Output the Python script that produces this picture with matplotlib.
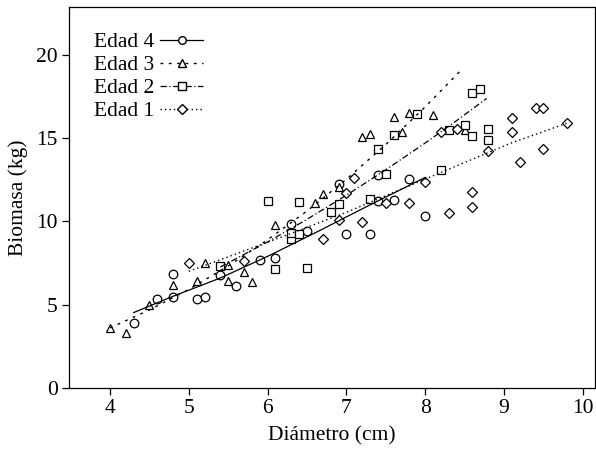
import matplotlib
matplotlib.use("Agg")
import matplotlib.pyplot as plt
from matplotlib.lines import Line2D

plt.rcParams['font.family'] = ['Liberation Serif', 'DejaVu Serif']

# puntos observados por edad (diametro cm, biomasa kg)
x4 = [4.3, 4.6, 4.8, 4.8, 5.1, 5.2, 5.4, 5.6, 5.9, 6.1, 6.3, 6.5, 6.9, 7.0, 7.3, 7.4, 7.4, 7.6, 7.8, 8.0]
y4 = [3.92, 5.35, 6.85, 5.48, 5.33, 5.46, 6.77, 6.14, 7.69, 7.78, 9.84, 9.42, 12.27, 9.27, 9.23, 12.8, 11.22, 11.31, 12.58, 10.3]

x3 = [4.0, 4.2, 4.5, 4.8, 5.1, 5.2, 5.5, 5.5, 5.7, 5.8, 6.1, 6.6, 6.7, 6.9, 7.2, 7.3, 7.6, 7.7, 7.8, 8.1, 8.5]
y3 = [3.57, 3.31, 4.98, 6.18, 6.42, 7.48, 7.39, 6.41, 6.99, 6.33, 9.78, 11.14, 11.66, 12.07, 15.1, 15.26, 16.27, 15.38, 16.5, 16.42, 15.5]

x2 = [5.4, 6.0, 6.1, 6.3, 6.3, 6.4, 6.4, 6.5, 6.8, 6.9, 7.3, 7.4, 7.5, 7.6, 7.9, 8.2, 8.3, 8.5, 8.6, 8.6, 8.7, 8.8, 8.8]
y2 = [7.32, 11.22, 7.14, 8.95, 9.3, 11.2, 9.24, 7.23, 10.6, 11.03, 11.37, 14.38, 12.88, 15.22, 16.45, 13.08, 15.5, 15.78, 15.15, 17.72, 17.95, 15.58, 14.9]

x1 = [5.0, 5.7, 6.7, 6.9, 7.0, 7.1, 7.2, 7.5, 7.8, 8.0, 8.2, 8.3, 8.4, 8.6, 8.6, 8.8, 9.1, 9.1, 9.2, 9.4, 9.5, 9.5, 9.8]
y1 = [7.53, 7.6, 8.92, 10.1, 11.7, 12.6, 9.98, 11.12, 11.14, 12.35, 15.38, 10.52, 15.58, 11.77, 10.87, 14.22, 15.38, 16.25, 13.57, 16.8, 16.8, 14.38, 15.93]

# curvas ajustadas
cx4 = [4.3, 4.8, 5.4, 6.0, 6.66, 7.3, 8.0]
cy4 = [4.52, 5.5, 6.6, 7.9, 9.45, 11.0, 12.65]
cx3 = [4.0, 4.5, 5.0, 5.5, 6.0, 6.5, 7.0, 7.5, 8.0, 8.45]
cy3 = [3.6, 4.68, 5.92, 7.32, 8.9, 10.63, 12.54, 14.63, 16.89, 19.08]
cx2 = [5.4, 6.0, 6.5, 7.0, 7.5, 8.0, 8.4, 8.78]
cy2 = [7.26, 8.77, 10.13, 11.58, 13.11, 14.72, 16.07, 17.4]
cx1 = [5.0, 6.0, 7.0, 8.2, 9.08, 9.81]
cy1 = [7.0, 8.75, 10.55, 12.95, 14.7, 15.93]

labels = ['Edad 4', 'Edad 3', 'Edad 2', 'Edad 1']

fig = plt.figure(figsize=(5.96, 4.5), dpi=100)
ax = fig.add_axes([0.1158, 0.1384, 0.8832, 0.846])

ls4 = '-'
ls3 = (0, (2.0, 4.0))
ls2 = (0, (5.0, 2.0, 1.0, 2.0))
ls1 = (0, (1.0, 2.2))

mk = dict(mfc='white', mec='black', mew=0.9, ls='none', ms=6.2)
ax.plot(x4, y4, marker='o', **mk)
ax.plot(x3, y3, marker='^', **mk)
ax.plot(x2, y2, marker='s', **dict(mk, ms=5.8))
ax.plot(x1, y1, marker='D', **dict(mk, ms=5.4))

ax.plot(cx4, cy4, color='black', lw=0.9, ls=ls4)
ax.plot(cx3, cy3, color='black', lw=1.0, ls=ls3)
ax.plot(cx2, cy2, color='black', lw=0.9, ls=ls2)
ax.plot(cx1, cy1, color='black', lw=1.0, ls=ls1)

handles = [
    Line2D([], [], color='black', lw=0.9, ls=ls4, marker='o', mfc='white', mec='black', ms=5.5),
    Line2D([], [], color='black', lw=1.0, ls=ls3, marker='^', mfc='white', mec='black', ms=5.5),
    Line2D([], [], color='black', lw=0.9, ls=ls2, marker='s', mfc='white', mec='black', ms=5.2),
    Line2D([], [], color='black', lw=1.0, ls=ls1, marker='D', mfc='white', mec='black', ms=5.0),
]
ax.legend(handles, labels, loc='upper left', bbox_to_anchor=(0.01, 0.985), frameon=False,
          markerfirst=False, numpoints=1, handlelength=2.0, handletextpad=0.3,
          labelspacing=0.14, fontsize=15.5)

ax.set_xlim(3.48, 10.16)
ax.set_ylim(0, 22.9)
ax.set_xticks([4, 5, 6, 7, 8, 9, 10])
ax.set_yticks([0, 5, 10, 15, 20])
ax.tick_params(direction='out', length=5, width=0.9, labelsize=15.5, pad=3)
ax.set_xlabel('Diámetro (cm)', fontsize=15.5, labelpad=6)
ax.set_ylabel('Biomasa (kg)', fontsize=15.5, labelpad=6)
for s in ax.spines.values():
    s.set_linewidth(0.9)

fig.savefig('out.png', dpi=100)
